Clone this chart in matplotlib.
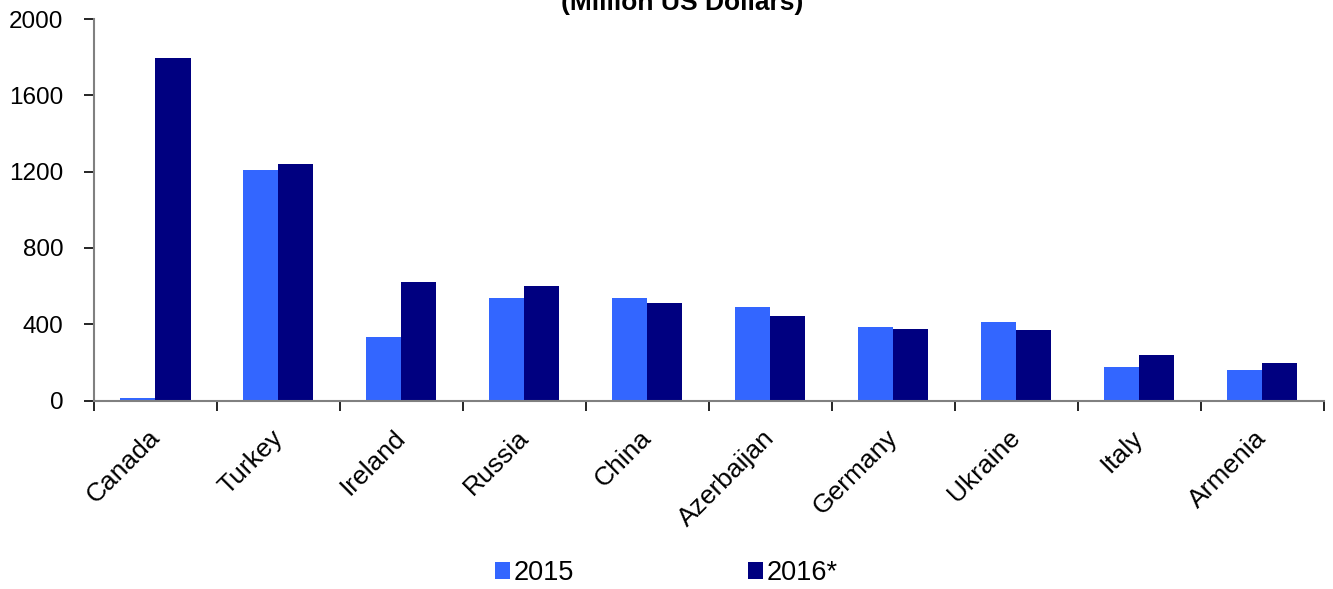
import numpy as np
import matplotlib
matplotlib.use("Agg")
import matplotlib.pyplot as plt
from matplotlib.transforms import ScaledTranslation

plt.rcParams['font.family'] = ['Liberation Sans', 'DejaVu Sans']

countries = ["Canada", "Turkey", "Ireland", "Russia", "China",
             "Azerbaijan", "Germany", "Ukraine", "Italy", "Armenia"]
v2015 = [13, 1210, 333, 538, 538, 491, 386, 412, 176, 160]
v2016 = [1795, 1240, 622, 601, 512, 444, 375, 370, 239, 197]
yticks = [0, 400, 800, 1200, 1600, 2000]

fig = plt.figure(figsize=(13.33, 5.89), dpi=100)
ax = fig.add_axes([0.0705, 0.32, 0.9225, 0.6477])

x = np.arange(len(countries))
w = 0.285
ax.bar(x - w/2, v2015, w, color="#3366ff", label="2015")
ax.bar(x + w/2, v2016, w, color="#000080", label="2016*")

ax.set_xlim(-0.5, len(countries) - 0.5)
ax.set_ylim(0, 2000)
ax.set_yticks(yticks)
ax.set_yticklabels([str(t) for t in yticks], fontsize=17.5)

# category labels at centers, ticks at boundaries
ax.set_xticks(x)
ax.set_xticklabels(countries, fontsize=19, rotation=45, ha='right', rotation_mode='anchor')
ax.tick_params(axis='x', length=0, pad=18)
shift = ScaledTranslation(-8 / 100, 0, fig.dpi_scale_trans)
for lab in ax.get_xticklabels():
    lab.set_transform(lab.get_transform() + shift)
ax.set_xticks(np.arange(len(countries) + 1) - 0.5, minor=True)
ax.tick_params(axis='x', which='minor', length=7, width=1.2, color='black')
ax.tick_params(axis='y', length=7, width=1.2, color='black', pad=15)

for s in ['top', 'right']:
    ax.spines[s].set_visible(False)
for s in ['left', 'bottom']:
    ax.spines[s].set_color('#808080')
    ax.spines[s].set_linewidth(1.5)

fig.text(0.512, 0.975, "(Million US Dollars)", ha='center', va='bottom',
         fontsize=19, fontweight='bold')

fig.legend(loc='center', bbox_to_anchor=(0.5, 0.027), ncol=2, frameon=False,
           fontsize=19.5, handlelength=0.55, handleheight=0.55, handletextpad=0.15,
           columnspacing=6.4)

fig.savefig("out.png", dpi=100)
